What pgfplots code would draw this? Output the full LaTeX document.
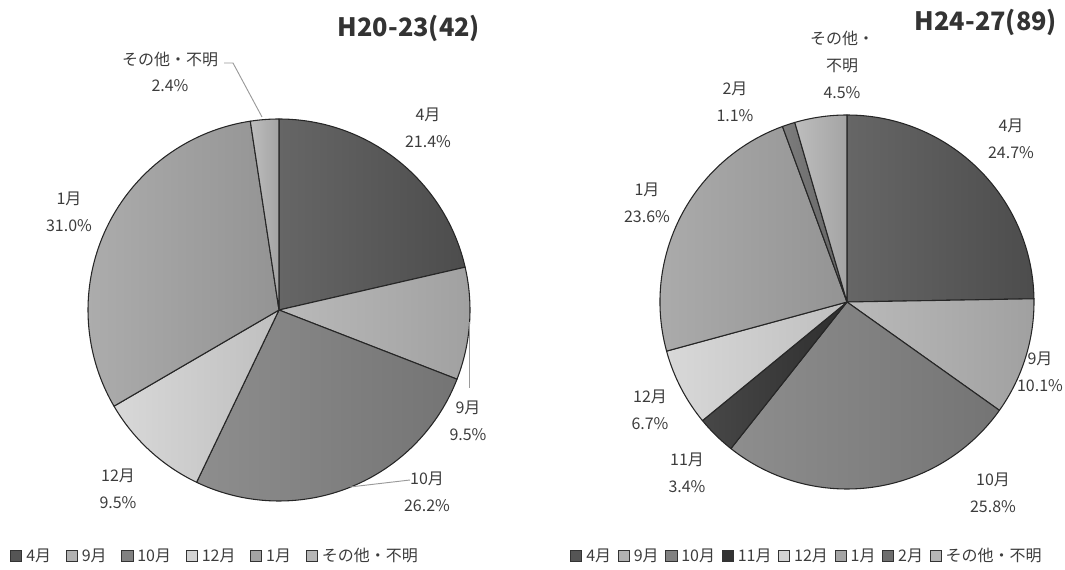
\documentclass[border=0pt]{standalone}
\usepackage{fontspec}
\setmainfont{Noto Sans CJK JP}
\usepackage{pgfplots}
\usepackage{pgfplotstable}
\pgfplotsset{compat=1.18}

\definecolor{cApr}{HTML}{555555}
\definecolor{cSep}{HTML}{B2B2B2}
\definecolor{cOct}{HTML}{818181}
\definecolor{cNov}{HTML}{333333}
\definecolor{cDec}{HTML}{D4D4D4}
\definecolor{cJan}{HTML}{A4A4A4}
\definecolor{cFeb}{HTML}{6E6E6E}
\definecolor{cOth}{HTML}{B6B6B6}
\definecolor{txt}{HTML}{3C3C3C}
\definecolor{ldr}{HTML}{9A9A9A}

\newcommand\brk{\\}

% share (%), slice colour, label centre (px; y measured from the top)
\pgfplotstableread[col sep=comma]{
name,share,col,lx,ly
4月,21.4,cApr,428,128
9月,9.5,cSep,468,421
10月,26.2,cOct,427,492
12月,9.5,cDec,118,489
1月,31.0,cJan,69,212
その他・不明,2.4,cOth,170,72
}\periodA

\pgfplotstableread[col sep=comma]{
name,share,col,lx,ly
4月,24.7,cApr,1011,139
9月,10.1,cSep,1040,372
10月,25.8,cOct,993,493
11月,3.4,cNov,687,473
12月,6.7,cDec,650,410
1月,23.6,cJan,647,203
2月,1.1,cFeb,735,102
その他・\brk 不明,4.5,cOth,842,65
}\periodB

\tikzset{lbl/.style={font=\fontsize{12}{20}\selectfont, align=center, text=txt, inner sep=0pt}}

% #1 table, #2 centre x, #3 centre y (from top), #4 radius (px)
\newcommand\drawpie[4]{%
  \pgfmathsetmacro\pieCy{569-#3}%
  \pgfmathsetmacro\pieR{0.75*#4}%
  \gdef\pieTotal{0}%
  \pgfplotstableforeachcolumnelement{share}\of#1\as\v{%
    \pgfmathparse{\pieTotal+\v}\xdef\pieTotal{\pgfmathresult}}%
  \gdef\pieStart{90}%
  \pgfplotstableforeachcolumnelement{share}\of#1\as\v{%
    \pgfmathparse{\pieStart-360*\v/\pieTotal}\xdef\pieEnd{\pgfmathresult}%
    \pgfplotstablegetelem{\pgfplotstablerow}{col}\of#1%
    \let\pieCol\pgfplotsretval
    \shade[left color=\pieCol!90!white, right color=\pieCol!90!black]
      (axis cs:#2,\pieCy) -- ++(\pieStart:\pieR pt)
      arc[start angle=\pieStart, end angle=\pieEnd, radius=\pieR pt] -- cycle;
    \draw[line width=0.8pt, draw=black!85, line join=round]
      (axis cs:#2,\pieCy) -- ++(\pieStart:\pieR pt)
      arc[start angle=\pieStart, end angle=\pieEnd, radius=\pieR pt] -- cycle;
    \xdef\pieStart{\pieEnd}%
  }%
  \pgfplotstableforeachcolumnelement{share}\of#1\as\v{%
    \pgfplotstablegetelem{\pgfplotstablerow}{name}\of#1\let\pieName\pgfplotsretval
    \pgfplotstablegetelem{\pgfplotstablerow}{lx}\of#1\let\pieLx\pgfplotsretval
    \pgfplotstablegetelem{\pgfplotstablerow}{ly}\of#1%
    \pgfmathsetmacro\pieLy{569-\pgfplotsretval}%
    \node[lbl] at (axis cs:\pieLx,\pieLy)
      {\pieName\\\pgfmathprintnumber[fixed,fixed zerofill,precision=1,
        assume math mode=true]{\v}\%};
  }%
}

\pgfplotsset{
  pieaxis/.style={
    width=399.375pt, height=426.75pt, scale only axis,
    ymin=0, ymax=569, hide axis, clip=false,
    legend image code/.code={\draw[##1, line width=0.6pt, draw=black!80]
      (0pt,-4.2pt) rectangle (8.4pt,4.2pt);},
    legend style={draw=none, fill=none, legend columns=-1, anchor=west,
      font=\fontsize{12}{14}\selectfont, text=txt,
      inner sep=0pt, row sep=0pt,
      nodes={inner xsep=3pt}},
  },
}

\begin{document}
\begin{tikzpicture}
\begin{axis}[pieaxis, xmin=0, xmax=532.5, at={(0pt,0pt)}, anchor=south west,
  legend style={at={(0.0188,0.0229)},
    /tikz/every even column/.append style={column sep=8pt}}]
  \addlegendimage{fill=cApr}\addlegendentry{4月}
  \addlegendimage{fill=cSep}\addlegendentry{9月}
  \addlegendimage{fill=cOct}\addlegendentry{10月}
  \addlegendimage{fill=cDec}\addlegendentry{12月}
  \addlegendimage{fill=cJan}\addlegendentry{1月}
  \addlegendimage{fill=cOth}\addlegendentry{その他・不明}
  \pgfplotsextra{\drawpie{\periodA}{279}{310}{191}}
  % leader lines
  \draw[ldr, line width=0.7pt] (axis cs:224,506) -- (axis cs:233,506) -- (axis cs:262,452);
  \draw[ldr, line width=0.7pt] (axis cs:469,247) -- (axis cs:469,181);
  \draw[ldr, line width=0.7pt] (axis cs:350,82) -- (axis cs:410,89);
  \node[font=\bfseries\fontsize{19}{24}\selectfont, text=black!80] at (axis cs:409,541) {H20-23(42)};
\end{axis}
\begin{axis}[pieaxis, xmin=532.5, xmax=1065, at={(399.375pt,0pt)}, anchor=south west,
  legend style={at={(0.0704,0.0229)},
    /tikz/every even column/.append style={column sep=2pt}}]
  \addlegendimage{fill=cApr}\addlegendentry{4月}
  \addlegendimage{fill=cSep}\addlegendentry{9月}
  \addlegendimage{fill=cOct}\addlegendentry{10月}
  \addlegendimage{fill=cNov}\addlegendentry{11月}
  \addlegendimage{fill=cDec}\addlegendentry{12月}
  \addlegendimage{fill=cJan}\addlegendentry{1月}
  \addlegendimage{fill=cFeb}\addlegendentry{2月}
  \addlegendimage{fill=cOth}\addlegendentry{その他・不明}
  \pgfplotsextra{\drawpie{\periodB}{847}{302}{187}}
  \node[font=\bfseries\fontsize{19}{24}\selectfont, text=black!80] at (axis cs:986,547) {H24-27(89)};
\end{axis}
\pgfresetboundingbox
\path[use as bounding box] (0pt,0pt) rectangle (798.75pt,426.75pt);
\end{tikzpicture}
\end{document}
